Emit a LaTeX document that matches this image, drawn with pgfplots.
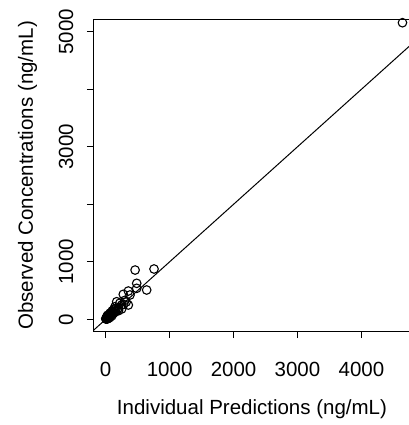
\documentclass[border=0pt]{standalone}
\usepackage{pgfplots}
\pgfplotsset{compat=1.18}
\usepackage{fontspec}
\setmainfont{Liberation Sans}
\begin{document}
\begin{tikzpicture}
\path[use as bounding box] (0,0) rectangle (409bp,425bp);
\begin{axis}[
  at={(94bp,94bp)}, anchor=south west,
  scale only axis, width=316bp, height=311bp,
  xmin=-183, xmax=4760, ymin=-203, ymax=5205,
  font=\fontsize{20.5bp}{24bp}\selectfont,
  /pgf/number format/assume math mode=true,
  /pgf/number format/1000 sep={},
  axis line style={line width=1bp},
  every tick/.style={black, line width=1bp},
  tick align=outside, major tick length=7bp,
  xtick pos=bottom, ytick pos=left,
  xtick={0,1000,2000,3000,4000},
  ytick={0,1000,2000,3000,4000,5000},
  yticklabels={0,1000,,3000,,5000},
  xticklabel style={anchor=center, yshift=-31bp},
  yticklabel style={anchor=center, rotate=90, yshift=21bp},
  xlabel={Individual Predictions (ng/mL)},
  ylabel={Observed Concentrations (ng/mL)},
  xlabel style={at={(axis description cs:0.5,0)}, anchor=center, yshift=-78bp},
  ylabel style={at={(axis description cs:0,0.5)}, anchor=center, yshift=66.5bp},
  clip=true,
]
\addplot[black, line width=1bp] coordinates {(-400,-400) (6000,6000)};
\addplot[only marks, mark=o, mark size=4.3bp, mark options={line width=1.1bp, black}] coordinates {
(4642,5158) (756,875) (460,857) (485,626) (641,510) (485,539) (354,492) (380,423)
(275,435) (172,306) (354,249) (250,249) (146,219) (300,330) (220,280) (200,200)
(180,160) (150,140) (130,180) (120,110) (100,130) (90,80) (80,100) (70,60)
(60,90) (55,40) (50,70) (45,30) (40,55) (35,25) (30,40) (25,20) (20,30)
(15,10) (12,20) (10,8) (8,15) (5,5) (60,60) (70,110) (110,90) (160,190)
(200,150) (250,180) (280,260) (320,300) (30,70) (20,50)
(2,12) (18,5) (28,10) (38,45) (48,20) (65,35) (75,80) (95,60) (105,150) (140,120)
};
\end{axis}
\end{tikzpicture}
\end{document}
